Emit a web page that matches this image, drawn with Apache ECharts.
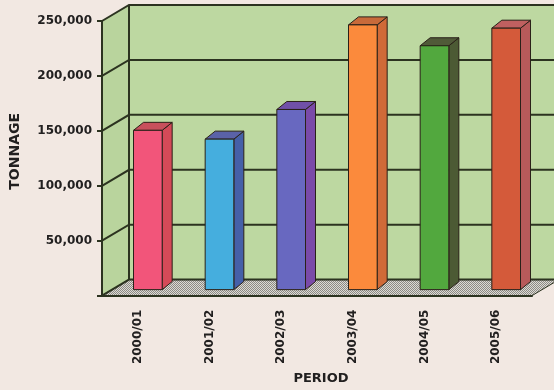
<!DOCTYPE html>
<html>
<head>
<meta charset="utf-8">
<script src="https://cdn.jsdelivr.net/npm/echarts@6/dist/echarts.min.js"></script>
<style>
html,body{margin:0;padding:0;background:#f2e8e2;}
#c{width:554px;height:390px;}
</style>
</head>
<body>
<div id="c"></div>
<script>
const categories = ['2000/01', '2001/02', '2002/03', '2003/04', '2004/05', '2005/06'];
const tonnage = [145000, 137000, 164000, 241000, 222000, 238000];
const yTicks = [0, 50000, 100000, 150000, 200000, 250000];

const barColors = [
  {front: '#f2557a', side: '#d44a58', top: '#c8505c'},
  {front: '#45aede', side: '#4560a8', top: '#5a62a8'},
  {front: '#6868c0', side: '#7a4aa8', top: '#7050a8'},
  {front: '#fb8a3c', side: '#d06a38', top: '#c86a3a'},
  {front: '#52a83e', side: '#4c5a34', top: '#505a38'},
  {front: '#d45a3a', side: '#b85a5a', top: '#c06060'}
];

const DX = 27, DY = -16;      // wall depth
const OX = 10, OY = -6;       // bar front face offset into depth
const BDX = 10, BDY = -8;     // bar depth
const EDGE = '#2c3320';
const TXT = '#222020';

const pat = document.createElement('canvas');
pat.width = 2; pat.height = 2;
const pc = pat.getContext('2d');
pc.fillStyle = '#dcdad4'; pc.fillRect(0, 0, 2, 2);
pc.fillStyle = '#8c8a84'; pc.fillRect(0, 0, 1, 1); pc.fillRect(1, 1, 1, 1);

const chart = echarts.init(document.getElementById('c'), null, {renderer: 'canvas'});

const option = {
  backgroundColor: '#f2e8e2',
  animation: false,
  grid: {left: 100, top: 21, width: 432, height: 277},
  xAxis: {
    type: 'category',
    data: categories,
    name: 'PERIOD',
    nameLocation: 'middle',
    nameGap: 75,
    nameTextStyle: {fontFamily: 'DejaVu Sans', fontWeight: 'bold', fontSize: 13, color: TXT, verticalAlign: 'top', padding: [0, 0, 0, 8]},
    axisLine: {lineStyle: {color: EDGE, width: 2}},
    axisTick: {length: 5, lineStyle: {color: EDGE, width: 2}},
    axisLabel: {rotate: 90, margin: 14, fontFamily: 'DejaVu Sans', fontWeight: 'bold', fontSize: 12, color: TXT},
    z: 5
  },
  yAxis: {
    type: 'value',
    min: 0, max: 250000, interval: 50000,
    name: 'TONNAGE',
    nameLocation: 'middle',
    nameGap: 80,
    nameRotate: 90,
    nameTextStyle: {fontFamily: 'DejaVu Sans', fontWeight: 'bold', fontSize: 14, color: TXT, padding: [0, 0, 0, 14]},
    axisLine: {show: true, lineStyle: {color: EDGE, width: 2}},
    axisTick: {show: true, length: 5, lineStyle: {color: EDGE, width: 2}},
    axisLabel: {
      margin: 10, fontFamily: 'DejaVu Sans', fontWeight: 'bold', fontSize: 12, color: TXT,
      formatter: v => v === 0 ? '' : v.toLocaleString('en-US')
    },
    splitLine: {show: false},
    z: 5
  },
  series: [
    {
      type: 'custom',
      z: 1,
      silent: true,
      clip: false,
      data: [[0, 0]],
      renderItem(params, api) {
        const cs = params.coordSys;
        const L = cs.x, R = cs.x + cs.width;
        const yTop = api.coord([0, yTicks[yTicks.length - 1]])[1];
        const yBot = api.coord([0, 0])[1];
        const children = [];
        children.push({type: 'polygon', shape: {points: [[L + DX, yTop + DY], [R + DX, yTop + DY], [R + DX, yBot + DY], [L + DX, yBot + DY]]},
          style: {fill: '#bdd8a1'}});
        children.push({type: 'polygon', shape: {points: [[L, yTop], [L + DX, yTop + DY], [L + DX, yBot + DY], [L, yBot]]},
          style: {fill: '#b9d49d'}});
        children.push({type: 'polygon', shape: {points: [[L, yBot], [L + DX, yBot + DY], [R + DX, yBot + DY], [R, yBot]]},
          style: {fill: {image: pat, repeat: 'repeat'}, stroke: EDGE, lineWidth: 1}});
        yTicks.forEach(v => {
          const y = api.coord([0, v])[1];
          children.push({type: 'polyline', shape: {points: [[L, y], [L + DX, y + DY], [R + DX, y + DY]]},
            style: {stroke: EDGE, lineWidth: 2, fill: null}});
        });
        children.push({type: 'line', shape: {x1: L + DX, y1: yTop + DY, x2: L + DX, y2: yBot + DY},
          style: {stroke: EDGE, lineWidth: 2}});
        return {type: 'group', children};
      }
    },
    {
      type: 'custom',
      z: 3,
      clip: false,
      data: tonnage.map((v, i) => [i, v]),
      renderItem(params, api) {
        const i = params.dataIndex;
        const b = api.coord([api.value(0), 0]);
        const t = api.coord([api.value(0), api.value(1)]);
        const w = api.size([1, 0])[0] * 0.4;
        const x0 = b[0] - w / 2 + OX, x1 = x0 + w;
        const yb = b[1] + OY, yt = t[1] + OY;
        const c = barColors[i];
        const st = {stroke: '#2a2018', lineWidth: 1, lineJoin: 'round'};
        return {type: 'group', children: [
          {type: 'polygon', shape: {points: [[x1, yb], [x1 + BDX, yb + BDY], [x1 + BDX, yt + BDY], [x1, yt]]},
            style: Object.assign({fill: c.side}, st)},
          {type: 'polygon', shape: {points: [[x0, yt], [x1, yt], [x1 + BDX, yt + BDY], [x0 + BDX, yt + BDY]]},
            style: Object.assign({fill: c.top}, st)},
          {type: 'rect', shape: {x: x0, y: yt, width: w, height: yb - yt},
            style: Object.assign({fill: c.front}, st)}
        ]};
      }
    }
  ]
};
chart.setOption(option);
</script>
</body>
</html>
